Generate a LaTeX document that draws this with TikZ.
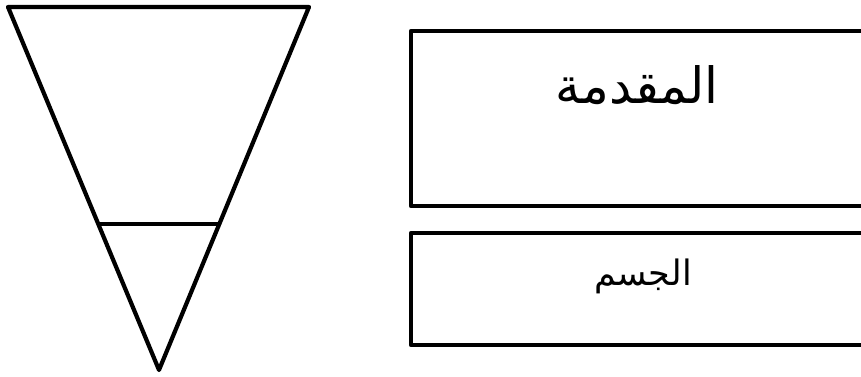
\documentclass[tikz,border=0pt]{standalone}
\usepackage{fontspec}
\TeXXeTstate=1
\newfontfamily\arabicfont[Script=Arabic]{DejaVu Sans}
\begin{document}
\begin{tikzpicture}[x=1pt,y=-1pt,
  shape line/.style={line width=4.2pt,line join=round,line cap=round},
  box/.style={line width=4.2pt,line join=round},
  lbl/.style={inner sep=0pt}]
\useasboundingbox (0,0) rectangle (861,377);
\clip (0,0) rectangle (861,377);
% inverted triangle
\coordinate (tl) at (8,7);
\coordinate (tr) at (309,7);
\coordinate (ap) at (159,370);
\draw[shape line] (tl) -- (tr) -- (ap) -- cycle;
\coordinate (ml) at (100,224);
\coordinate (mr) at (219,224);
\draw[line width=3.4pt] (ml) -- (mr);
% boxes
\draw[box] (900,31) -- (411,31) -- (411,206) -- (900,206);
\draw[box] (900,233) -- (411,233) -- (411,345) -- (900,345);
\node[lbl,anchor=base] (intro) at (637,104) {\arabicfont\fontsize{50}{56}\selectfont\beginR المقدمة\endR};
\node[lbl,anchor=base] (body) at (643,285) {\arabicfont\fontsize{35}{40}\selectfont\beginR الجسم\endR};
\end{tikzpicture}
\end{document}
